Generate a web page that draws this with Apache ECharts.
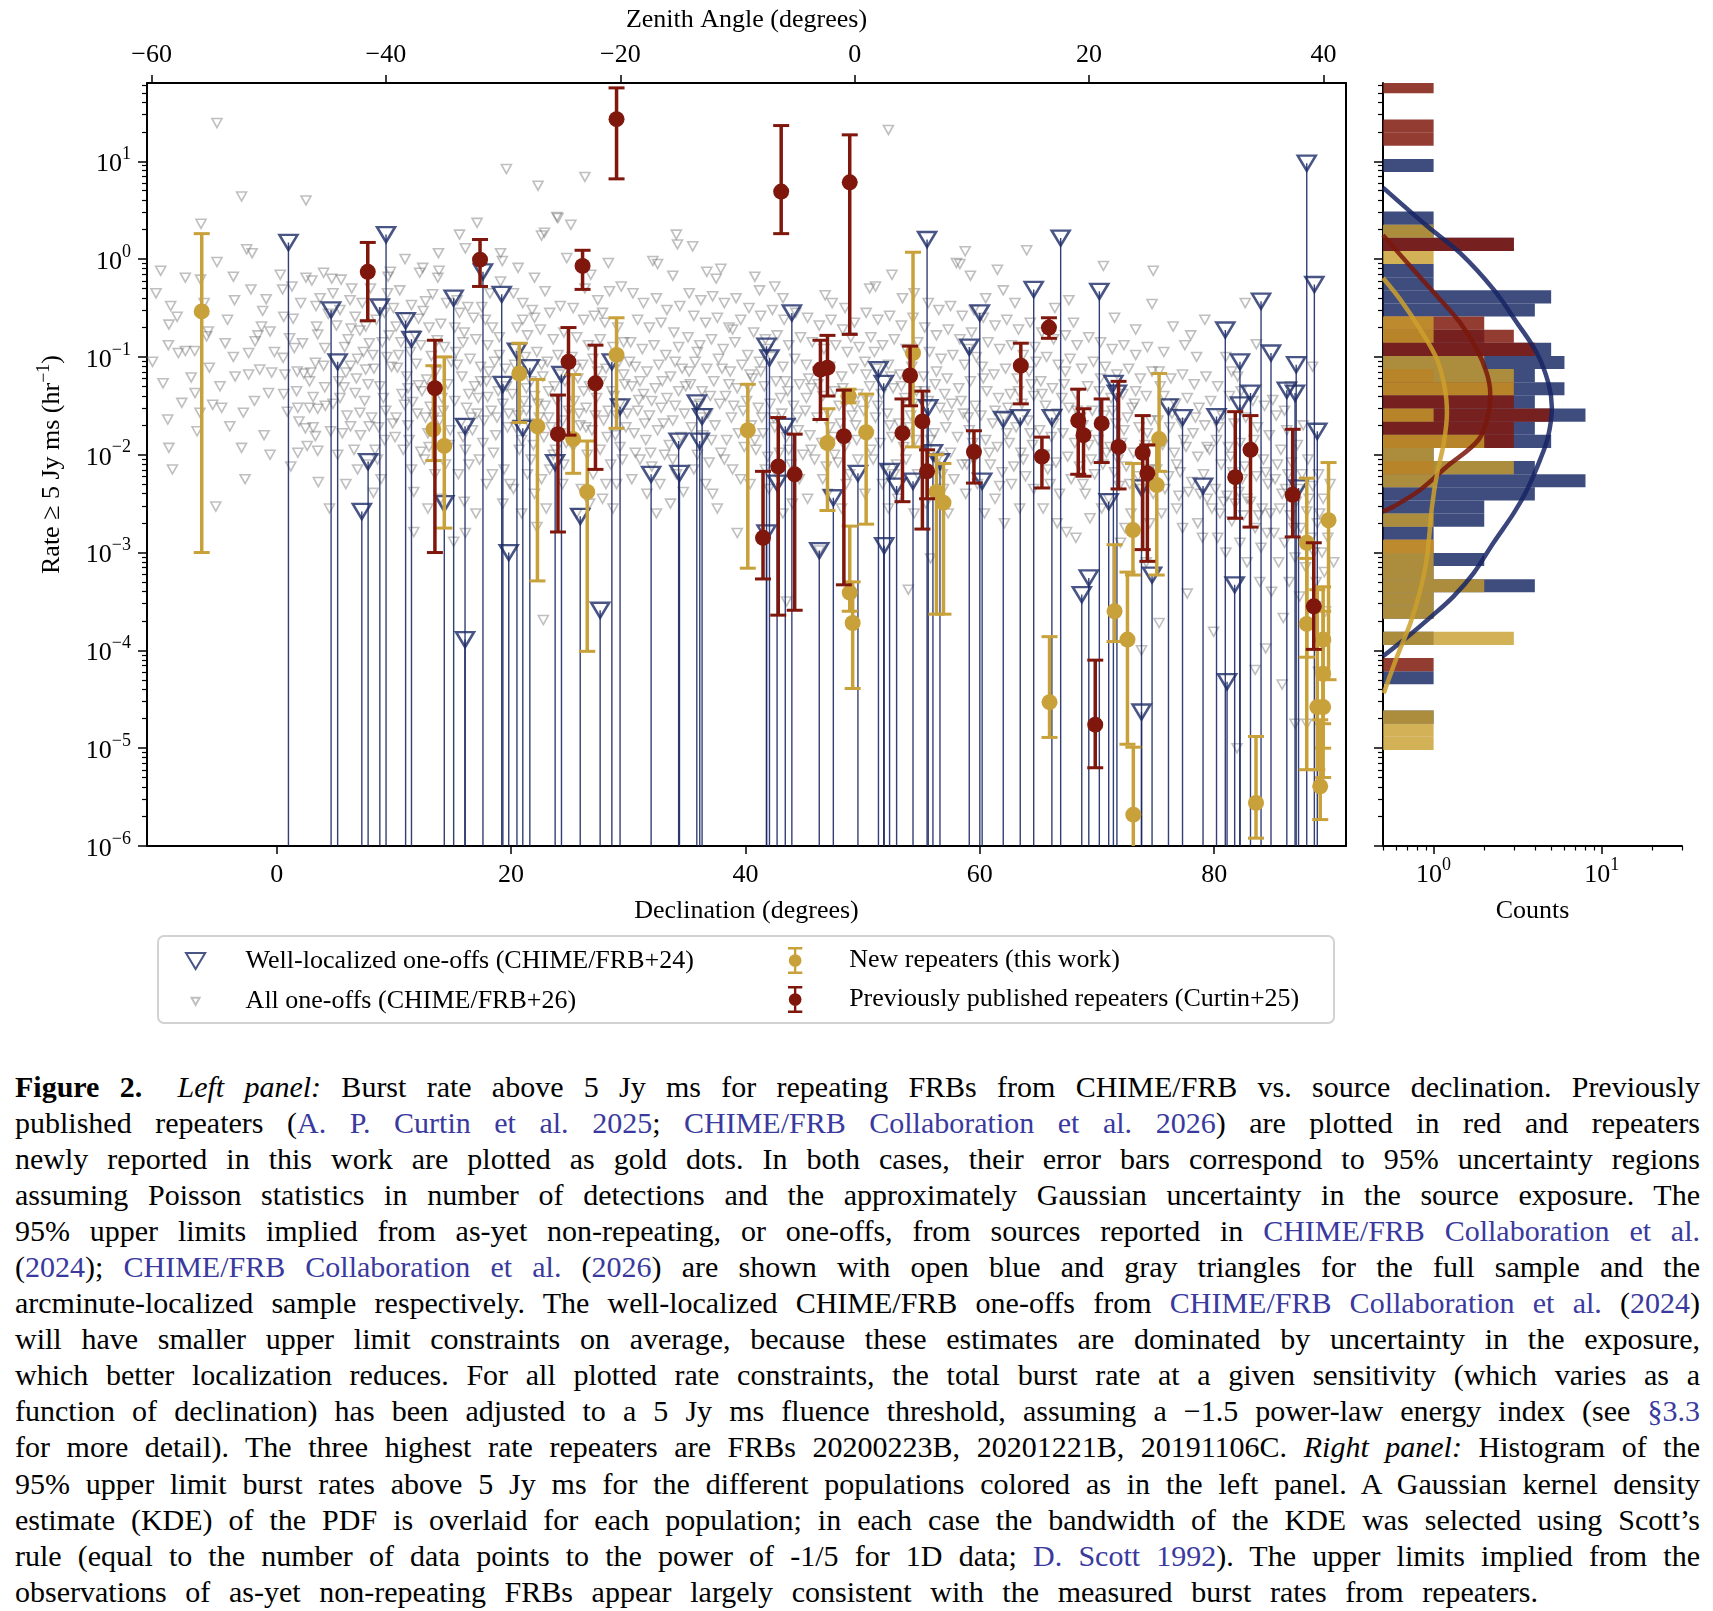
<!DOCTYPE html>
<html>
<head>
<meta charset="UTF-8">
<title>Burst rate vs declination</title>
<script src="https://cdn.jsdelivr.net/npm/echarts@6/dist/echarts.min.js"></script>
<style>
  body { margin: 0; background: #fff; }
  #chart { position: absolute; left: 0; top: 0; width: 1713px; height: 1050px; }
  #caption { position: absolute; left: 15px; top: 1069px; width: 1685px;
             font-family: 'Liberation Serif', serif; font-size: 30px; color: #000; }
  #caption .ln { height: 36.05px; line-height: 36px; text-align: justify; text-align-last: justify; }
  #caption .ln.last { width: 1523px; }
  #caption .l { color: #3a3a9e; }
</style>
</head>
<body>
<div id="chart"></div>
<div id="caption">
  <div class="ln"><b>Figure 2.</b>&ensp; <i>Left panel:</i> Burst rate above 5 Jy ms for repeating FRBs from CHIME/FRB vs. source declination. Previously</div>
  <div class="ln">published repeaters (<span class="l">A. P. Curtin et al. 2025</span>; <span class="l">CHIME/FRB Collaboration et al. 2026</span>) are plotted in red and repeaters</div>
  <div class="ln">newly reported in this work are plotted as gold dots. In both cases, their error bars correspond to 95% uncertainty regions</div>
  <div class="ln">assuming Poisson statistics in number of detections and the approximately Gaussian uncertainty in the source exposure. The</div>
  <div class="ln">95% upper limits implied from as-yet non-repeating, or one-offs, from sources reported in <span class="l">CHIME/FRB Collaboration et al.</span></div>
  <div class="ln">(<span class="l">2024</span>); <span class="l">CHIME/FRB Collaboration et al.</span> (<span class="l">2026</span>) are shown with open blue and gray triangles for the full sample and the</div>
  <div class="ln">arcminute-localized sample respectively. The well-localized CHIME/FRB one-offs from <span class="l">CHIME/FRB Collaboration et al.</span> (<span class="l">2024</span>)</div>
  <div class="ln">will have smaller upper limit constraints on average, because these estimates are dominated by uncertainty in the exposure,</div>
  <div class="ln">which better localization reduces. For all plotted rate constraints, the total burst rate at a given sensitivity (which varies as a</div>
  <div class="ln">function of declination) has been adjusted to a 5 Jy ms fluence threshold, assuming a −1.5 power-law energy index (see <span class="l">§3.3</span></div>
  <div class="ln">for more detail). The three highest rate repeaters are FRBs 20200223B, 20201221B, 20191106C. <i>Right panel:</i> Histogram of the</div>
  <div class="ln">95% upper limit burst rates above 5 Jy ms for the different populations colored as in the left panel. A Gaussian kernel density</div>
  <div class="ln">estimate (KDE) of the PDF is overlaid for each population; in each case the bandwidth of the KDE was selected using Scott’s</div>
  <div class="ln">rule (equal to the number of data points to the power of -1/5 for 1D data; <span class="l">D. Scott 1992</span>). The upper limits implied from the</div>
  <div class="ln last">observations of as-yet non-repeating FRBs appear largely consistent with the measured burst rates from repeaters.</div>
</div>

<script>
// ---- data: declination (deg), log10 rate above 5 Jy ms (hr^-1) ----

// well-localized one-offs, 95% upper limits [dec, log10 rate]
var wellLocalized = [
  [1.0,0.17],[4.64,-0.52],[5.2,-1.05],[7.26,-2.58],[7.8,-2.07],[9.33,0.25],[8.8,-0.49],[11.0,-0.63],
  [11.5,-0.82],[15.1,-0.40],[14.3,-2.50],[16.07,-3.89],[16.07,-1.71],[17.6,-0.13],[19.2,-0.36],[19.3,-1.28],
  [19.8,-3.0],[20.5,-0.94],[21.0,-1.73],[21.6,-1.11],[24.3,-1.18],[23.76,-2.08],[25.9,-2.63],[27.6,-3.59],
  [28.6,-1.05],[29.3,-1.51],[31.95,-2.2],[34.3,-1.86],[34.37,-2.19],[35.85,-1.47],[36.3,-1.61],[36.1,-1.86],
  [41.8,-0.89],[42.05,-1.01],[41.8,-2.8],[42.7,-2.29],[43.4,-1.71],[43.96,-0.55],[46.3,-2.98],[47.5,-2.44],
  [49.6,-2.19],[51.35,-1.13],[51.8,-1.27],[51.84,-2.93],[52.3,-2.17],[52.9,-2.32],[54.3,-2.27],[55.5,0.2],
  [55.6,-1.52],[56.0,-1.98],[56.6,-2.07],[59.1,-0.9],[60.0,-0.55],[60.2,-2.27],[62.0,-1.64],[63.45,-1.62],
  [64.6,-0.31],[66.15,-1.62],[66.9,0.215],[68.7,-3.43],[69.3,-3.26],[70.2,-0.33],[71.0,-2.48],[71.4,-1.27],
  [71.7,-1.37],[73.8,-4.63],[73.8,-2.34],[74.7,-3.23],[76.1,-1.51],[77.3,-1.62],[79.05,-2.32],[80.2,-1.61],
  [80.95,-0.725],[81.1,-4.32],[81.75,-3.33],[82.2,-1.05],[82.2,-1.49],[83.1,-1.37],[84.0,-0.43],[84.85,-0.96],
  [86.2,-1.34],[86.9,-1.37],[87.0,-1.08],[87.2,-2.34],[87.9,0.98],[88.55,-0.26],[88.8,-1.76]
];

// all one-offs, 95% upper limits [dec, log10 rate]
var allOneOffs = [
  [-9.2,-0.67],[-9.05,-0.48],[-8.5,-0.59],[-9.25,-0.88],[-8.4,-0.96],[-7.8,-0.94],[-7.0,-0.94],[-5.84,-0.74],
  [-5.98,-0.79],[-5.75,-1.11],[-6.97,-1.37],[-5.46,-1.49],[-6.55,-1.57],[-9.3,-1.64],[-9.2,-1.93],[-7.8,-0.19],
  [-6.5,-0.21],[-5.1,-0.03],[-6.46,0.36],[-5.1,1.39],[-10.3,-0.35],[-10.6,-1.05],[-7.3,-1.21],[-6.2,-0.45],
  [-8.1,-1.47],[-9.9,-0.12],[-6.8,-1.76],[-9.7,-1.27],[-5.2,-2.53],[-8.9,-2.15],
  [-3.0,0.64],[-2.56,0.1],[-2.1,0.06],[-3.7,-0.18],[-3.6,-0.42],[-4.84,-1.3],[-4.7,-1.52],[-3.0,-1.93],
  [-2.85,-1.57],[-3.7,-1.0],[-2.4,-1.18],[-3.55,-1.2],[-2.4,-0.96],[-1.85,-0.84],[-1.6,-0.78],[-1.3,-0.69],
  [-1.2,-0.53],[-0.57,-0.74],[-0.43,-1.16],[-0.7,-1.37],[-1.08,-1.8],[-0.57,-2.0],[-4.2,-0.62],[-1.9,-1.45],
  [-4.4,-0.86],[-0.2,-0.95],[-2.2,-0.31],[-4.0,-1.71],[-1.45,-1.13],[-2.7,-2.25],[-0.9,-0.41],
  [2.5,0.6],[0.3,-0.16],[0.5,-0.31],[1.3,-0.28],[0.6,-0.59],[1.4,-0.61],[1.1,-0.81],[0.55,-1.01],
  [1.5,-0.91],[0.7,-1.18],[1.75,-1.15],[1.7,-1.35],[0.6,-1.38],[1.8,-1.52],[1.9,-1.66],[1.8,-1.98],
  [2.5,-0.19],[3.0,-0.22],[4.0,-0.14],[4.7,-0.2],[3.7,-0.4],[3.35,-0.48],[3.4,-0.69],[3.5,-0.77],
  [4.1,-0.91],[4.0,-1.09],[3.3,-1.06],[2.9,-1.16],[2.3,-1.17],[2.8,-1.25],[3.1,-1.41],[2.8,-1.52],
  [3.5,-1.53],[3.1,-1.72],[2.45,-1.73],[3.3,-1.81],[3.5,-1.96],[4.15,-1.5],[4.8,-1.48],[4.1,-1.31],
  [3.55,-2.28],[4.5,-2.55],[4.8,-0.35],[2.2,-0.86],[0.9,-1.56],[4.4,-0.56],[2.05,-0.45],[4.6,-1.76],
  [2.6,-1.91],[1.2,-2.12],
  [5.5,-0.21],[5.75,-1.31],[5.9,-1.16],[6.3,-1.09],[6.26,-0.42],[5.4,-0.52],[6.7,-0.59],[6.35,-0.71],
  [7.1,-0.73],[7.6,-0.69],[7.9,-0.86],[8.2,-0.98],[7.6,-1.13],[6.7,-1.37],[7.1,-1.57],[6.3,-1.71],
  [7.15,-1.8],[7.9,-1.71],[9.5,-0.18],[9.7,-0.13],[9.45,-0.35],[9.95,-0.5],[5.2,-2.0],[8.25,-2.39],
  [8.6,-2.05],[6.9,-2.15],[8.8,-1.3],[9.3,-1.55],[9.0,-0.85],[5.8,-0.9],[8.4,-1.95],[9.8,-1.1],
  [6.0,-1.6],[8.0,-0.3],[7.3,-0.45],[9.2,-1.85],[5.3,-1.25],[8.9,-2.25],[7.5,-1.45],[6.6,-1.95],
  [8.5,-0.62],[9.6,-0.78],[5.6,-1.78],[8.1,-1.62],[6.9,-1.02],[9.1,-1.42],[7.8,-1.28],[5.1,-0.68],
  [5.4,-1.42],[6.1,-0.82],[6.8,-1.22],[7.4,-0.95],[8.3,-1.12],[8.7,-1.72],[9.4,-1.0],[9.9,-1.68],
  [5.9,-2.3],[7.7,-2.1],[6.4,-0.3],[9.2,-0.55],
  [10.95,0.0],[12.46,-0.09],[12.2,-0.14],[13.8,0.06],[13.85,-0.12],[13.75,-0.19],[13.3,-0.36],[12.7,-0.43],
  [11.5,-0.47],[12.5,-0.53],[10.2,-0.69],[11.0,-0.6],[12.1,-0.61],[13.0,-0.7],[14.0,-0.66],[10.6,-0.85],
  [11.4,-0.95],[12.3,-0.88],[13.2,-0.99],[14.3,-0.9],[10.3,-1.11],[11.1,-1.2],[11.9,-1.07],[12.8,-1.23],
  [13.6,-1.15],[14.6,-1.28],[10.7,-1.38],[11.6,-1.46],[12.4,-1.35],[13.1,-1.51],[14.1,-1.42],[10.2,-1.62],
  [11.2,-1.7],[12.0,-1.58],[12.9,-1.78],[13.9,-1.65],[14.8,-1.75],[11.7,-2.38],[11.7,-2.79],[10.8,-1.95],
  [12.6,-2.05],[13.5,-2.2],[14.4,-2.1],[11.3,-1.85],[13.0,-1.92],[10.5,-0.32],[14.5,-0.45],[12.1,-1.29],
  [10.9,-1.49],[14.9,-1.05],[13.4,-1.62],
  [10.4,-0.98],[11.2,-1.32],[11.8,-0.78],[12.7,-1.62],[13.3,-1.32],[14.2,-1.55],[14.7,-1.9],[10.1,-1.82],
  [12.3,-1.97],[13.7,-0.83],[11.5,-2.15],[14.0,-2.45],[12.9,-2.55],
  [15.6,0.25],[16.1,0.11],[17.1,0.37],[19.6,0.92],[19.1,0.06],[19.25,-0.02],[19.1,-0.23],[15.4,-0.42],
  [15.6,-0.55],[16.3,-0.49],[16.8,-0.6],[17.5,-0.49],[17.8,-0.62],[18.4,-0.7],[16.0,-0.75],[17.0,-0.82],
  [18.0,-0.88],[19.0,-0.8],[15.3,-0.95],[16.5,-1.02],[17.4,-1.1],[18.6,-1.05],[19.5,-1.12],[15.8,-1.2],
  [16.9,-1.3],[17.9,-1.25],[18.9,-1.35],[15.2,-1.45],[16.2,-1.52],[17.2,-1.42],[18.3,-1.55],[19.3,-1.48],
  [15.7,-1.68],[16.7,-1.75],[17.7,-1.65],[18.7,-1.8],[19.7,-1.72],[16.1,-1.95],[17.3,-2.05],[18.5,-1.98],
  [19.4,-2.15],[15.1,-2.89],[16.1,-2.8],[16.0,-2.48],[19.3,-2.5],[17.9,-2.3],[15.5,-2.2],[18.2,-0.35],
  [16.6,-1.62],[18.1,-1.15],[19.8,-1.58],[17.6,-1.88],[15.9,-0.85],
  [15.4,-1.08],[16.4,-1.38],[17.1,-1.58],[18.0,-1.41],[18.8,-1.62],[19.6,-1.3],[15.9,-1.82],[17.4,-1.25],
  [18.4,-2.2],[19.0,-0.98],[16.4,-2.1],[17.0,-2.6],[19.9,-2.3],[15.2,-0.7],
  [22.3,0.75],[23.9,0.43],[22.6,0.24],[22.85,0.27],[24.0,0.42],[20.6,-0.09],[22.0,-0.19],[22.9,-0.33],
  [24.75,0.01],[20.2,-0.35],[21.0,-0.45],[21.8,-0.52],[22.0,-0.6],[23.3,-0.55],[24.2,-0.48],[20.5,-0.7],
  [21.4,-0.78],[22.5,-0.72],[23.6,-0.82],[24.5,-0.75],[20.3,-0.92],[21.2,-1.0],[22.2,-0.95],[23.1,-1.05],
  [24.0,-0.98],[24.8,-1.1],[20.8,-1.15],[21.7,-1.25],[22.7,-1.2],[23.7,-1.3],[24.6,-1.25],[20.1,-1.38],
  [21.1,-1.45],[22.0,-1.4],[22.9,-1.5],[23.9,-1.45],[20.6,-1.6],[21.5,-1.68],[22.4,-1.62],[23.4,-1.72],
  [24.4,-1.65],[20.9,-1.85],[21.9,-1.9],[22.8,-1.82],[23.8,-1.95],[24.7,-1.88],[20.9,-2.6],[22.2,-2.74],
  [22.75,-3.69],[21.4,-2.2],[23.3,-2.15],[24.4,-2.3],[22.0,-2.4],[21.3,-1.55],[23.2,-1.35],[24.2,-1.78],
  [20.4,-1.72],[22.6,-1.08],
  [20.3,-1.08],[21.3,-1.32],[22.3,-1.48],[23.2,-1.62],[24.1,-1.18],[20.7,-1.95],[21.7,-2.05],[22.6,-2.25],
  [23.6,-2.0],[24.5,-2.1],[20.2,-2.35],[23.0,-2.55],[24.9,-1.55],[21.0,-0.62],
  [26.3,0.84],[28.3,-0.04],[26.8,-0.16],[26.3,-0.3],[28.4,-0.33],[29.4,-0.28],[27.4,-0.42],[25.3,-0.5],
  [26.2,-0.62],[27.1,-0.58],[28.0,-0.65],[29.1,-0.7],[25.6,-0.8],[26.6,-0.88],[27.6,-0.82],[28.7,-0.9],
  [29.6,-0.85],[25.2,-1.0],[26.1,-1.08],[27.0,-1.02],[28.1,-1.12],[29.2,-1.05],[25.7,-1.22],[26.7,-1.3],
  [27.7,-1.25],[28.6,-1.35],[29.7,-1.28],[25.4,-1.45],[26.4,-1.52],[27.3,-1.42],[28.3,-1.55],[29.3,-1.48],
  [25.9,-1.7],[26.9,-1.75],[27.9,-1.65],[28.9,-1.8],[29.8,-1.72],[25.3,-1.92],[26.5,-2.0],[27.6,-1.95],
  [28.5,-2.1],[29.5,-2.05],[26.0,-2.35],[27.8,-2.45],[29.0,-2.3],[25.6,-2.6],[25.1,0.35],[27.2,-1.6],
  [28.8,-1.4],[26.2,-1.35],[29.9,-1.58],
  [25.5,-1.12],[26.4,-1.72],[27.4,-1.15],[28.2,-1.82],[29.0,-1.6],[25.8,-1.58],[27.0,-2.2],[28.1,-2.3],
  [29.3,-1.92],[26.7,-2.5],[28.7,-2.55],[29.6,-1.18],[27.8,-0.55],
  [32.1,-0.02],[32.5,-0.05],[33.8,-0.17],[34.1,0.25],[34.2,0.15],[30.4,-0.35],[31.3,-0.45],[32.4,-0.4],
  [33.3,-0.52],[34.4,-0.48],[30.8,-0.62],[31.8,-0.7],[32.8,-0.65],[33.9,-0.75],[30.2,-0.85],[31.2,-0.92],
  [32.2,-0.88],[33.2,-0.98],[34.3,-0.9],[30.6,-1.1],[31.6,-1.15],[32.6,-1.08],[33.6,-1.2],[34.6,-1.12],
  [30.3,-1.3],[31.3,-1.38],[32.3,-1.32],[33.3,-1.42],[34.3,-1.35],[30.8,-1.55],[31.8,-1.6],[32.8,-1.52],
  [33.8,-1.65],[34.8,-1.58],[30.5,-1.78],[31.5,-1.85],[32.5,-1.75],[33.5,-1.9],[34.5,-1.82],[31.0,-2.05],
  [32.0,-2.12],[33.1,-2.0],[34.1,-2.2],[31.6,-2.4],[33.6,-2.5],[30.9,-1.44],[32.9,-1.25],[34.0,-1.5],
  [31.4,-1.68],
  [30.1,-1.05],[31.0,-1.25],[32.0,-1.45],[33.0,-1.68],[34.0,-1.05],[30.6,-1.98],[31.9,-1.98],[32.7,-2.3],
  [33.8,-2.05],[34.7,-2.38],[30.3,-2.25],[32.4,-2.6],[34.9,-1.3],
  [35.5,0.13],[36.7,-0.13],[37.5,-0.2],[37.9,-0.1],[35.2,-0.35],[36.2,-0.42],[37.2,-0.38],[38.2,-0.45],
  [39.2,-0.4],[35.6,-0.58],[36.6,-0.65],[37.6,-0.6],[38.6,-0.7],[39.6,-0.62],[35.1,-0.8],[36.1,-0.88],
  [37.1,-0.82],[38.1,-0.92],[39.1,-0.85],[35.7,-1.05],[36.7,-1.12],[37.7,-1.02],[38.7,-1.15],[39.7,-1.08],
  [35.3,-1.28],[36.3,-1.35],[37.3,-1.25],[38.3,-1.4],[39.3,-1.32],[35.8,-1.5],[36.8,-1.58],[37.8,-1.48],
  [38.8,-1.62],[39.8,-1.55],[35.4,-1.72],[36.4,-1.8],[37.4,-1.7],[38.4,-1.85],[39.4,-1.78],[35.9,-2.0],
  [36.9,-2.08],[37.9,-1.98],[38.9,-2.15],[39.3,-2.8],[37.2,-2.4],[36.2,-1.62],[38.6,-1.28],[37.0,-1.4],
  [35.2,-1.15],[36.1,-1.48],[37.1,-1.85],[38.0,-1.12],[39.0,-1.5],[39.9,-1.92],[35.6,-2.15],[36.6,-2.3],
  [38.2,-2.05],[39.6,-2.25],[37.6,-2.55],[35.9,-0.95],[38.9,-0.72],
  [40.8,-0.18],[41.2,-0.32],[42.5,-0.28],[43.2,-0.4],[40.3,-0.5],[41.3,-0.58],[42.3,-0.52],[43.3,-0.62],
  [44.3,-0.55],[40.7,-0.75],[41.7,-0.82],[42.7,-0.78],[43.7,-0.88],[44.7,-0.8],[40.2,-0.98],[41.2,-1.05],
  [42.2,-1.0],[43.2,-1.1],[44.2,-1.02],[40.6,-1.22],[41.6,-1.3],[42.6,-1.25],[43.6,-1.35],[44.6,-1.28],
  [40.1,-1.45],[41.1,-1.52],[42.1,-1.48],[43.1,-1.58],[44.1,-1.5],[40.5,-1.7],[41.5,-1.78],[42.5,-1.72],
  [43.5,-1.82],[44.5,-1.75],[40.9,-1.95],[41.9,-2.02],[42.9,-1.98],[43.9,-2.1],[44.9,-2.0],[43.5,-3.5],
  [42.0,-2.35],[44.0,-2.5],[41.4,-1.62],[43.0,-1.42],[40.4,-1.18],
  [40.3,-1.32],[41.3,-1.15],[42.4,-1.62],[43.4,-1.25],[44.4,-1.62],[40.8,-1.85],[41.7,-2.15],[42.7,-2.2],
  [43.7,-1.95],[44.6,-2.25],[40.4,-2.3],[43.2,-2.6],[41.9,-0.92],
  [46.8,-0.37],[47.4,-0.45],[48.5,-0.5],[45.3,-0.6],[46.3,-0.68],[47.3,-0.62],[48.3,-0.72],[49.3,-0.65],
  [45.7,-0.85],[46.7,-0.92],[47.7,-0.88],[48.7,-0.95],[49.7,-0.9],[45.2,-1.08],[46.2,-1.15],[47.2,-1.1],
  [48.2,-1.2],[49.2,-1.12],[45.6,-1.32],[46.6,-1.4],[47.6,-1.35],[48.6,-1.45],[49.6,-1.38],[45.1,-1.55],
  [46.1,-1.62],[47.1,-1.58],[48.1,-1.68],[49.1,-1.6],[45.5,-1.8],[46.5,-1.88],[47.5,-1.82],[48.5,-1.92],
  [49.5,-1.85],[45.9,-2.05],[46.9,-2.12],[47.9,-2.08],[48.9,-2.2],[46.3,-2.98],[47.0,-2.4],[45.4,-1.22],
  [48.0,-1.5],[49.4,-1.7],
  [45.2,-1.42],[46.2,-1.28],[47.2,-1.72],[48.3,-1.32],[49.3,-1.5],[45.6,-1.95],[46.6,-2.25],[47.6,-2.0],
  [48.6,-2.3],[49.6,-2.05],[45.3,-2.45],[48.2,-2.55],[49.0,-0.8],
  [52.2,1.32],[52.5,-0.16],[51.1,-0.28],[50.6,-0.3],[53.4,-0.4],[54.4,-0.35],[50.3,-0.55],[51.3,-0.62],
  [52.3,-0.58],[53.3,-0.68],[54.3,-0.6],[50.7,-0.8],[51.7,-0.88],[52.7,-0.82],[53.7,-0.92],[54.7,-0.85],
  [50.2,-1.05],[51.2,-1.12],[52.2,-1.08],[53.2,-1.18],[54.2,-1.1],[50.6,-1.3],[51.6,-1.38],[52.6,-1.32],
  [53.6,-1.42],[54.6,-1.35],[50.1,-1.55],[51.1,-1.62],[52.1,-1.58],[53.1,-1.68],[54.1,-1.6],[50.5,-1.8],
  [51.5,-1.88],[52.5,-1.82],[53.5,-1.92],[54.5,-1.85],[50.9,-2.05],[51.9,-2.15],[52.9,-2.1],[53.9,-3.38],
  [53.0,-2.45],[50.4,-1.45],[52.4,-1.2],[54.0,-1.72],
  [50.3,-1.18],[51.3,-1.5],[52.3,-1.7],[53.3,-1.3],[54.3,-1.48],[50.7,-1.95],[51.7,-2.3],[52.7,-2.2],
  [53.7,-2.05],[54.7,-2.2],[50.2,-2.4],[52.2,-2.55],[54.4,-2.6],[51.0,-0.95],
  [58.0,-0.04],[58.75,0.08],[58.3,-0.05],[59.2,-0.17],[55.6,-0.45],[56.5,-0.52],[57.5,-0.48],[58.5,-0.58],
  [59.5,-0.52],[55.3,-0.7],[56.3,-0.78],[57.3,-0.72],[58.3,-0.82],[59.3,-0.75],[55.7,-0.95],[56.7,-1.02],
  [57.7,-0.98],[58.7,-1.08],[59.7,-1.0],[55.2,-1.2],[56.2,-1.28],[57.2,-1.22],[58.2,-1.32],[59.2,-1.25],
  [55.6,-1.45],[56.6,-1.52],[57.6,-1.48],[58.6,-1.58],[59.6,-1.5],[55.1,-1.7],[56.1,-1.78],[57.1,-1.72],
  [58.1,-1.82],[59.1,-1.75],[55.5,-1.95],[56.5,-2.02],[57.5,-1.98],[58.5,-2.1],[59.5,-2.05],[55.8,-3.06],
  [56.9,-2.35],[58.8,-2.4],[57.0,-1.38],[59.0,-1.62],
  [55.3,-1.35],[56.3,-1.15],[57.3,-1.6],[58.4,-1.45],[59.4,-1.88],[55.8,-1.85],[56.8,-2.2],[57.8,-2.25],
  [58.9,-2.1],[59.8,-2.3],[55.4,-2.5],[57.3,-2.6],[59.0,-0.92],
  [61.5,-0.11],[64.0,0.09],[60.5,-0.4],[62.0,-0.32],[63.0,-0.45],[60.3,-0.6],[61.3,-0.68],[62.3,-0.62],
  [63.3,-0.72],[64.3,-0.65],[60.7,-0.85],[61.7,-0.92],[62.7,-0.88],[63.7,-0.98],[64.7,-0.9],[60.2,-1.1],
  [61.2,-1.18],[62.2,-1.12],[63.2,-1.22],[64.2,-1.15],[60.6,-1.35],[61.6,-1.42],[62.6,-1.38],[63.6,-1.48],
  [64.6,-1.4],[60.1,-1.6],[61.1,-1.68],[62.1,-1.62],[63.1,-1.72],[64.1,-1.65],[60.5,-1.85],[61.5,-1.92],
  [62.5,-1.88],[63.5,-1.98],[64.5,-1.9],[60.9,-2.1],[61.9,-2.18],[62.9,-2.12],[63.9,-2.22],[61.3,-2.45],
  [63.4,-2.55],[62.4,-1.52],[64.4,-1.28],
  [60.3,-1.22],[61.3,-1.55],[62.3,-1.78],[63.3,-1.35],[64.3,-1.78],[60.8,-1.98],[61.7,-2.32],[62.7,-2.3],
  [63.7,-2.05],[64.6,-2.35],[60.4,-2.6],[62.1,-2.7],[64.8,-1.05],
  [66.4,-0.5],[67.6,-0.42],[65.3,-0.75],[66.3,-0.82],[67.3,-0.78],[68.3,-0.88],[69.3,-0.8],[65.7,-1.0],
  [66.7,-1.08],[67.7,-1.02],[68.7,-1.12],[69.7,-1.05],[65.2,-1.25],[66.2,-1.32],[67.2,-1.28],[68.2,-1.38],
  [69.2,-1.3],[65.6,-1.5],[66.6,-1.58],[67.6,-1.52],[68.6,-1.62],[69.6,-1.55],[65.1,-1.75],[66.1,-1.82],
  [67.1,-1.78],[68.1,-1.88],[69.1,-1.8],[65.5,-2.0],[66.5,-2.08],[67.5,-2.02],[68.5,-2.12],[69.5,-2.05],
  [66.0,-2.3],[67.4,-2.79],[68.2,-2.85],[69.0,-2.4],[67.0,-1.42],[68.8,-1.7],
  [65.3,-1.38],[66.3,-1.68],[67.3,-1.15],[68.3,-1.55],[69.3,-1.9],[65.8,-2.15],[66.8,-2.4],[67.8,-2.25],
  [68.8,-2.3],[69.8,-2.2],[65.4,-2.55],[66.6,-2.7],[69.4,-2.65],[68.0,-0.65],
  [70.55,-0.07],[74.8,-0.12],[74.7,-0.46],[71.5,-0.6],[70.3,-0.85],[71.3,-0.92],[72.3,-0.88],[73.3,-0.98],
  [74.3,-0.9],[70.7,-1.1],[71.7,-1.18],[72.7,-1.12],[73.7,-1.22],[74.7,-1.15],[70.2,-1.35],[71.2,-1.42],
  [72.2,-1.38],[73.2,-1.48],[74.2,-1.4],[70.6,-1.6],[71.6,-1.68],[72.6,-1.62],[73.6,-1.72],[74.6,-1.65],
  [70.1,-1.85],[71.1,-1.92],[72.1,-1.88],[73.1,-1.98],[74.1,-1.9],[70.5,-2.1],[71.5,-2.18],[72.5,-2.12],
  [73.5,-2.22],[74.5,-2.15],[71.0,-2.45],[72.9,-2.6],[73.8,-4.0],[74.2,-3.1],[72.0,-2.9],[73.0,-1.52],
  [71.9,-2.32],
  [70.3,-1.22],[71.3,-1.55],[72.3,-1.75],[73.3,-1.35],[74.3,-1.78],[70.8,-1.98],[71.8,-2.05],[72.8,-2.3],
  [73.8,-2.35],[74.8,-2.4],[70.4,-2.55],[72.4,-2.75],[74.5,-2.7],[73.3,-0.72],
  [76.5,-0.69],[79.2,-0.62],[75.7,-0.95],[77.5,-0.88],[78.5,-1.0],[75.3,-1.15],[76.3,-1.22],[77.3,-1.18],
  [78.3,-1.28],[79.3,-1.2],[75.7,-1.4],[76.7,-1.48],[77.7,-1.42],[78.7,-1.52],[79.7,-1.45],[75.2,-1.65],
  [76.2,-1.72],[77.2,-1.68],[78.2,-1.78],[79.2,-1.7],[75.6,-1.9],[76.6,-1.98],[77.6,-1.92],[78.6,-2.02],
  [79.6,-1.95],[75.1,-2.15],[76.1,-2.22],[77.1,-2.18],[78.1,-2.28],[79.1,-2.2],[75.3,-3.72],[77.7,-3.42],
  [79.95,-3.81],[76.8,-2.55],[78.6,-2.7],[77.0,-2.42],[79.4,-2.45],
  [75.4,-1.3],[76.4,-1.58],[77.4,-1.85],[78.4,-1.62],[79.4,-1.92],[75.8,-2.35],[76.8,-2.1],[77.8,-2.38],
  [78.8,-2.4],[79.8,-2.55],[75.5,-2.6],[77.3,-2.75],[79.0,-2.85],[78.0,-0.78],
  [82.65,-0.45],[83.6,-0.87],[81.0,-1.0],[82.0,-1.2],[80.3,-1.3],[81.3,-1.4],[82.3,-1.35],[83.3,-1.45],
  [84.3,-1.5],[80.7,-1.6],[81.7,-1.68],[82.7,-1.62],[83.7,-1.72],[84.7,-1.8],[80.2,-1.85],[81.2,-1.92],
  [82.2,-1.88],[83.2,-1.98],[84.2,-2.05],[80.6,-2.1],[81.6,-2.18],[82.6,-2.12],[83.6,-2.22],[84.6,-2.3],
  [80.1,-2.35],[81.1,-2.42],[82.1,-2.38],[83.1,-2.48],[84.1,-2.55],[80.5,-2.6],[81.5,-2.68],[82.5,-2.62],
  [83.5,-2.75],[84.5,-2.8],[81.95,-5.0],[83.5,-4.2],[84.4,-3.98],[82.8,-3.1],[81.0,-3.0],[83.9,-3.3],
  [80.4,-1.72],[81.4,-2.02],[82.4,-2.25],[83.4,-1.85],[84.4,-2.18],[80.8,-2.48],[81.8,-2.5],[82.8,-2.45],
  [83.8,-2.62],[84.8,-2.6],[80.3,-2.85],[82.2,-2.9],[84.0,-2.95],[81.5,-1.15],
  [85.3,-1.6],[86.2,-1.75],[87.1,-1.9],[88.0,-2.05],[88.9,-2.2],[85.7,-1.95],[86.6,-2.08],[87.5,-2.2],
  [88.4,-2.32],[89.3,-2.45],[85.2,-2.25],[86.1,-2.35],[87.0,-2.48],[87.9,-2.58],[88.8,-2.7],[89.7,-2.85],
  [85.6,-2.55],[86.5,-2.62],[87.4,-2.75],[88.3,-2.85],[89.2,-3.0],[85.1,-2.8],[86.0,-2.9],[86.9,-3.05],
  [87.8,-3.15],[88.7,-3.3],[85.9,-3.67],[85.8,-4.35],[86.9,-4.75],[87.9,-4.75],[88.9,-4.22],[89.5,-3.6],
  [86.4,-3.3],[84.9,-3.4],[90.2,-3.1],[89.9,-2.3],[85.0,-1.44],[88.4,-1.1],[86.5,-1.3],
  [85.4,-2.1],[86.3,-2.2],[87.2,-2.35],[88.1,-2.45],[89.0,-2.6],[85.8,-2.4],[86.8,-2.75],[87.6,-2.9],
  [88.5,-3.0],[89.4,-3.2],[85.5,-3.1],[87.3,-3.45],[88.9,-3.55],[86.0,-1.55],[87.6,-1.7]
];

// new repeaters: [dec, log10 rate, log10 upper, log10 lower]
var newRepeaters = [
  [-6.4,-0.535,0.26,-3.0],[13.37,-1.74,-1.09,-2.06],[14.3,-1.91,-1.0,-2.75],[20.7,-1.17,-0.86,-1.67],
  [22.25,-1.71,-1.23,-3.29],[25.3,-1.84,-1.18,-2.19],[26.5,-2.38,-1.86,-4.01],[29.0,-0.98,-0.6,-1.73],
  [40.2,-1.75,-1.28,-3.16],[47.0,-1.88,-1.53,-2.57],[48.8,-1.40,-1.33,-1.47],[48.9,-3.41,-2.73,-3.6],
  [49.15,-3.72,-3.3,-4.39],[50.3,-1.77,-1.38,-2.71],[54.3,-0.96,0.07,-1.92],[56.3,-2.38,-2.0,-3.63],
  [56.9,-2.49,-2.09,-3.63],[65.95,-4.53,-3.86,-4.89],[71.5,-3.6,-2.92,-3.91],[72.6,-3.89,-3.2,-4.96],
  [73.07,-2.77,-2.09,-3.23],[73.1,-5.68,-4.99,-6.5],[75.1,-2.31,-1.9,-3.23],[75.3,-1.84,-1.17,-2.17],
  [83.57,-5.56,-4.88,-5.92],[87.9,-2.9,-2.24,-4.07],[87.9,-3.73,-3.06,-5.22],[89.76,-2.67,-2.08,-4.3],
  [89.3,-3.89,-3.35,-4.75],[89.3,-4.24,-3.6,-5.0],[88.8,-4.58,-3.38,-5.22],[89.3,-4.58,-3.9,-5.3],
  [89.05,-5.39,-4.71,-5.73]
];

// previously published repeaters: [dec, log10 rate, log10 upper, log10 lower]
var prevRepeaters = [
  [7.77,-0.13,0.17,-0.63],[13.5,-1.32,-0.83,-3.0],[17.35,-0.006,0.2,-0.28],[24.0,-1.79,-1.39,-2.79],
  [24.9,-1.05,-0.7,-1.8],[26.1,-0.07,0.09,-0.31],[27.2,-1.27,-0.88,-2.15],[29.0,1.43,1.75,0.82],
  [41.5,-2.85,-2.17,-3.27],[42.8,-2.12,-1.62,-3.64],[43.05,0.69,1.365,0.26],[44.2,-2.2,-1.79,-3.59],
  [46.4,-1.13,-0.83,-1.64],[47.0,-1.11,-0.78,-1.4],[48.4,-1.81,-1.34,-3.33],[48.9,0.785,1.27,-0.77],
  [53.4,-1.78,-1.43,-2.48],[54.05,-1.19,-0.89,-1.5],[55.1,-1.66,-1.35,-2.76],[55.5,-2.17,-1.95,-2.45],
  [59.5,-1.97,-1.755,-2.29],[63.5,-1.09,-0.86,-1.48],[65.3,-2.02,-1.82,-2.34],[65.9,-0.7,-0.6,-0.81],
  [68.4,-1.65,-1.33,-2.2],[68.85,-1.8,-1.53,-2.22],[69.85,-4.76,-4.1,-5.2],[70.4,-1.68,-1.43,-2.08],
  [71.84,-1.92,-1.25,-2.35],[73.9,-1.98,-1.6,-2.97],[74.3,-2.19,-1.9,-3.09],[81.8,-2.23,-1.56,-2.65],
  [83.1,-1.95,-1.6,-2.74],[86.7,-2.41,-1.74,-2.84],[88.5,-3.55,-2.9,-3.99]
];

// histogram of 95% upper limits: log10-rate bins (top edge of first bin, bin width), counts per bin
var histFirstTop = 1.829;
var histBinWidth = 0.13426;
var histRed  = [1,0,0,1,1,0,0,0,0,0,0,0,3,0,0,0,0,0,2,3,4,0,1,3,3,5,3,3,0,1,0,0,0,0,0,1,0,0,0,0,0,0,0,0,1,0,0,0,0,0,0];
var histGold = [0,0,0,0,0,0,0,0,0,0,0,1,0,1,0,0,0,0,1,1,0,2,3,3,0,1,0,2,1,3,1,0,0,1,0,1,1,1,2,1,1,0,3,0,0,0,0,0,1,1,1];
var histBlue = [0,0,0,0,0,0,1,0,0,0,1,1,3,0,1,1,5,4,0,2,5,6,4,6,4,8,4,5,1,4,8,4,2,2,1,0,2,1,4,1,1,0,1,0,0,1,0,0,1,0,0];

// KDE curves: [count, log10 rate]
var kdeBlue = [[0.5,0.73],[0.91,0.34],[1.44,0.06],[2.27,-0.31],[3.13,-0.65],[4.11,-0.96],[4.82,-1.27],[5.05,-1.52],
  [4.8,-1.81],[4.3,-2.05],[3.59,-2.36],[2.99,-2.6],[2.27,-2.9],[1.73,-3.21],[1.31,-3.45],[0.96,-3.66],[0.7,-3.86],[0.5,-4.06]];
var kdeRed = [[0.5,0.245],[0.727,-0.074],[1.05,-0.381],[1.44,-0.653],[1.81,-0.926],[2.07,-1.165],[2.17,-1.369],
  [2.12,-1.574],[1.85,-1.847],[1.2,-2.12],[0.834,-2.358],[0.579,-2.529],[0.5,-2.58]];
var kdeGold = [[0.5,-0.193],[0.634,-0.415],[0.834,-0.722],[1.05,-1.029],[1.17,-1.336],[1.2,-1.574],[1.15,-1.88],
  [1.05,-2.188],[0.978,-2.529],[0.914,-3.04],[0.834,-3.381],[0.727,-3.722],[0.606,-4.064],[0.505,-4.439]];

// axis ranges
var DEC_MIN = -11.07, DEC_MAX = 91.25, ZENITH_OFFSET = 49.32;
var LOG_MIN = -6, LOG_MAX = 1.8;
var CNT_MIN = Math.log10(0.5), CNT_MAX = Math.log10(30);

var N_BLUE = 'Well-localized one-offs (CHIME/FRB+24)';
var N_GRAY = 'All one-offs (CHIME/FRB+26)';
var N_GOLD = 'New repeaters (this work)';
var N_RED = 'Previously published repeaters (Curtin+25)';

var FONT = 'Liberation Serif';
var NAVY = '#1b2a66';
var GOLD = '#c9a13a';
var RED = '#7f170c';

// ticks
var majorLog = [-6,-5,-4,-3,-2,-1,0,1];
var minorLog = [];
majorLog.forEach(function (k) {
  for (var m = 2; m <= 9; m++) {
    var v = k + Math.log10(m);
    if (v <= LOG_MAX) minorLog.push(v);
  }
});
var cntMajor = [0, 1];
var cntMinor = [0.5,0.6,0.7,0.8,0.9,2,3,4,5,6,7,8,9,20,30].map(function (c) { return Math.log10(c); });

function expText(v) {
  var r = Math.round(v);
  return r < 0 ? '−' + (-r) : String(r);
}
var supRich = {
  b: { fontFamily: FONT, fontSize: 26, color: '#000', verticalAlign: 'bottom', lineHeight: 32 },
  s: { fontFamily: FONT, fontSize: 18, color: '#000', verticalAlign: 'top', lineHeight: 32 }
};
function powLabel(v) { return '{b|10}{s|' + expText(v) + '}'; }

var axisLineStyle = { color: '#000', width: 2 };
var titleStyle = { fontFamily: FONT, fontSize: 26, color: '#000' };

// histogram data for custom series: [log10 count, top edge, bottom edge]
function histData(counts) {
  var out = [];
  counts.forEach(function (c, i) {
    if (c > 0) {
      var top = histFirstTop - histBinWidth * i;
      out.push([Math.log10(c), top, top - histBinWidth]);
    }
  });
  return out;
}
function barItem(fill) {
  return function (params, api) {
    var p0 = api.coord([CNT_MIN, api.value(1)]);
    var p1 = api.coord([api.value(0), api.value(2)]);
    return { type: 'rect', shape: { x: p0[0], y: p0[1], width: p1[0] - p0[0], height: p1[1] - p0[1] },
             style: { fill: fill } };
  };
}
function errorItem(color) {
  return function (params, api) {
    var x = api.value(0);
    var c = api.coord([x, api.value(1)]);
    var hi = api.coord([x, api.value(2)]);
    var lo = api.coord([x, api.value(3)]);
    var cap = 8;
    return { type: 'group', children: [
      { type: 'line', shape: { x1: c[0], y1: hi[1], x2: c[0], y2: lo[1] }, style: { stroke: color, lineWidth: 3.5 } },
      { type: 'line', shape: { x1: c[0] - cap, y1: hi[1], x2: c[0] + cap, y2: hi[1] }, style: { stroke: color, lineWidth: 3 } },
      { type: 'line', shape: { x1: c[0] - cap, y1: lo[1], x2: c[0] + cap, y2: lo[1] }, style: { stroke: color, lineWidth: 3 } },
      { type: 'circle', shape: { cx: c[0], cy: c[1], r: 8 }, style: { fill: color } }
    ] };
  };
}
function stemItem(params, api) {
  var top = api.coord([api.value(0), api.value(1)]);
  var bot = api.coord([api.value(0), LOG_MIN]);
  return { type: 'line', shape: { x1: top[0], y1: top[1], x2: bot[0], y2: bot[1] },
           style: { stroke: 'rgba(24,38,98,0.88)', lineWidth: 1.4 } };
}
function kdeLine(data) {
  return data.map(function (p) { return [Math.log10(p[0]), p[1]]; });
}

var errIcon = 'path://M1,0H19V3H1Z M8.5,3H11.5V31H8.5Z M1,31H19V34H1Z M18,17A8,8 0 1,1 2,17A8,8 0 1,1 18,17Z';
var blueIcon = 'path://M0,0L18,0L9,15Z';
var grayIcon = 'path://M0,0L0,0M20,20L20,20M5,6L15,6L10,15Z';

var hidden = { show: false, onZero: false };

var chart = echarts.init(document.getElementById('chart'));
var option = {
  backgroundColor: '#fff',
  animation: false,
  grid: [
    { left: 147, top: 83, width: 1199, height: 763, outerBoundsMode: 'none' },
    { left: 1383, top: 83, width: 299, height: 763, outerBoundsMode: 'none' }
  ],
  graphic: [{
    type: 'rect', z: 0, shape: { x: 158, y: 936, width: 1176, height: 87, r: 6 },
    style: { fill: '#fff', stroke: '#d2d2d2', lineWidth: 2 }
  }],
  legend: [
    { left: 180, top: 943, orient: 'vertical', itemGap: 14, itemWidth: 34, itemHeight: 16,
      selectedMode: false, textStyle: { fontFamily: FONT, fontSize: 26, color: '#000', lineHeight: 25, padding: [0,0,0,28] },
      data: [{ name: N_BLUE, icon: blueIcon }, { name: N_GRAY, icon: grayIcon }] },
    { left: 783, top: 942, orient: 'vertical', itemGap: 12, itemWidth: 34, itemHeight: 27,
      selectedMode: false, textStyle: { fontFamily: FONT, fontSize: 26, color: '#000', lineHeight: 25, padding: [0,0,0,32] },
      data: [{ name: N_GOLD, icon: errIcon }, { name: N_RED, icon: errIcon }] }
  ],
  xAxis: [
    { gridIndex: 0, type: 'value', position: 'bottom', min: DEC_MIN, max: DEC_MAX,
      axisLine: { onZero: false, lineStyle: axisLineStyle },
      axisTick: { length: 8, lineStyle: { color: '#000', width: 1.5 }, customValues: [0,20,40,60,80] },
      axisLabel: { customValues: [0,20,40,60,80], fontFamily: FONT, fontSize: 26, color: '#000', margin: 16 },
      splitLine: { show: false },
      name: 'Declination (degrees)', nameLocation: 'middle', nameGap: 52, nameTextStyle: titleStyle },
    { gridIndex: 0, type: 'value', position: 'top', min: DEC_MIN - ZENITH_OFFSET, max: DEC_MAX - ZENITH_OFFSET,
      axisLine: { onZero: false, lineStyle: axisLineStyle },
      axisTick: { length: 8, lineStyle: { color: '#000', width: 1.5 }, customValues: [-60,-40,-20,0,20,40] },
      axisLabel: { customValues: [-60,-40,-20,0,20,40], fontFamily: FONT, fontSize: 26, color: '#000', margin: 15,
                   formatter: function (v) { return v < 0 ? '−' + (-v) : String(v); } },
      splitLine: { show: false },
      name: 'Zenith Angle (degrees)', nameLocation: 'middle', nameGap: 50, nameTextStyle: titleStyle },
    { gridIndex: 1, type: 'value', position: 'bottom', min: CNT_MIN, max: CNT_MAX,
      axisLine: { onZero: false, lineStyle: axisLineStyle },
      axisTick: { length: 8, lineStyle: { color: '#000', width: 1.5 }, customValues: cntMajor },
      axisLabel: { customValues: cntMajor, formatter: powLabel, rich: supRich, margin: 10 },
      splitLine: { show: false },
      name: 'Counts', nameLocation: 'middle', nameGap: 52, nameTextStyle: titleStyle },
    { gridIndex: 1, type: 'value', position: 'bottom', min: CNT_MIN, max: CNT_MAX,
      axisLine: hidden, axisLabel: { show: false }, splitLine: { show: false },
      axisTick: { length: 4.5, lineStyle: { color: '#000', width: 1.2 }, customValues: cntMinor } }
  ],
  yAxis: [
    { gridIndex: 0, type: 'value', position: 'left', min: LOG_MIN, max: LOG_MAX,
      axisLine: { onZero: false, lineStyle: axisLineStyle },
      axisTick: { length: 9, lineStyle: { color: '#000', width: 1.5 }, customValues: majorLog },
      axisLabel: { customValues: majorLog, formatter: powLabel, rich: supRich, margin: 16 },
      splitLine: { show: false },
      name: '{a|Rate ≥ 5 Jy ms (hr}{s|−1}{a|)}', nameLocation: 'middle', nameGap: 82, nameRotate: 90,
      nameTextStyle: { rich: {
        a: { fontFamily: FONT, fontSize: 26, color: '#000', verticalAlign: 'bottom', lineHeight: 30 },
        s: { fontFamily: FONT, fontSize: 18, color: '#000', verticalAlign: 'top', lineHeight: 30 } } } },
    { gridIndex: 0, type: 'value', position: 'left', min: LOG_MIN, max: LOG_MAX,
      axisLine: hidden, axisLabel: { show: false }, splitLine: { show: false },
      axisTick: { length: 5, lineStyle: { color: '#000', width: 1.2 }, customValues: minorLog } },
    { gridIndex: 0, type: 'value', position: 'right', min: LOG_MIN, max: LOG_MAX,
      axisLine: { onZero: false, lineStyle: axisLineStyle }, axisTick: { show: false },
      axisLabel: { show: false }, splitLine: { show: false } },
    { gridIndex: 1, type: 'value', position: 'left', min: LOG_MIN, max: LOG_MAX,
      axisLine: { onZero: false, lineStyle: axisLineStyle },
      axisTick: { length: 9, lineStyle: { color: '#000', width: 1.5 }, customValues: majorLog },
      axisLabel: { show: false }, splitLine: { show: false } },
    { gridIndex: 1, type: 'value', position: 'left', min: LOG_MIN, max: LOG_MAX,
      axisLine: hidden, axisLabel: { show: false }, splitLine: { show: false },
      axisTick: { length: 5, lineStyle: { color: '#000', width: 1.2 }, customValues: minorLog } }
  ],
  series: [
    { name: N_GRAY, type: 'scatter', xAxisIndex: 0, yAxisIndex: 0, silent: true, z: 1,
      symbol: 'triangle', symbolRotate: 180, symbolSize: [10, 9],
      itemStyle: { color: 'rgba(0,0,0,0)', borderColor: 'rgba(110,110,110,0.55)', borderWidth: 1.6 },
      data: allOneOffs },
    { type: 'custom', xAxisIndex: 0, yAxisIndex: 0, silent: true, z: 2, clip: true,
      renderItem: stemItem, data: wellLocalized },
    { name: N_BLUE, type: 'scatter', xAxisIndex: 0, yAxisIndex: 0, silent: true, z: 3,
      symbol: 'triangle', symbolRotate: 180, symbolSize: [18, 15],
      itemStyle: { color: 'rgba(0,0,0,0)', borderColor: NAVY, borderWidth: 2.5 },
      data: wellLocalized },
    { name: N_GOLD, type: 'custom', xAxisIndex: 0, yAxisIndex: 0, silent: true, z: 4, clip: true,
      itemStyle: { color: GOLD }, renderItem: errorItem(GOLD), data: newRepeaters },
    { name: N_RED, type: 'custom', xAxisIndex: 0, yAxisIndex: 0, silent: true, z: 5, clip: true,
      itemStyle: { color: RED }, renderItem: errorItem(RED), data: prevRepeaters },

    { type: 'custom', xAxisIndex: 2, yAxisIndex: 3, silent: true, z: 2, clip: true,
      renderItem: barItem('rgba(20,38,98,0.82)'), data: histData(histBlue) },
    { type: 'custom', xAxisIndex: 2, yAxisIndex: 3, silent: true, z: 3, clip: true,
      renderItem: barItem('rgba(128,26,14,0.85)'), data: histData(histRed) },
    { type: 'custom', xAxisIndex: 2, yAxisIndex: 3, silent: true, z: 4, clip: true,
      renderItem: barItem('rgba(200,158,45,0.8)'), data: histData(histGold) },
    { type: 'line', xAxisIndex: 2, yAxisIndex: 3, silent: true, z: 6, smooth: 0.35, showSymbol: false,
      lineStyle: { color: 'rgba(22,36,100,0.85)', width: 4.5 }, data: kdeLine(kdeBlue) },
    { type: 'line', xAxisIndex: 2, yAxisIndex: 3, silent: true, z: 6, smooth: 0.35, showSymbol: false,
      lineStyle: { color: 'rgba(122,22,10,0.85)', width: 4.5 }, data: kdeLine(kdeRed) },
    { type: 'line', xAxisIndex: 2, yAxisIndex: 3, silent: true, z: 6, smooth: 0.35, showSymbol: false,
      lineStyle: { color: 'rgba(205,160,45,0.85)', width: 4.5 }, data: kdeLine(kdeGold) }
  ]
};
chart.setOption(option);
</script>
</body>
</html>
